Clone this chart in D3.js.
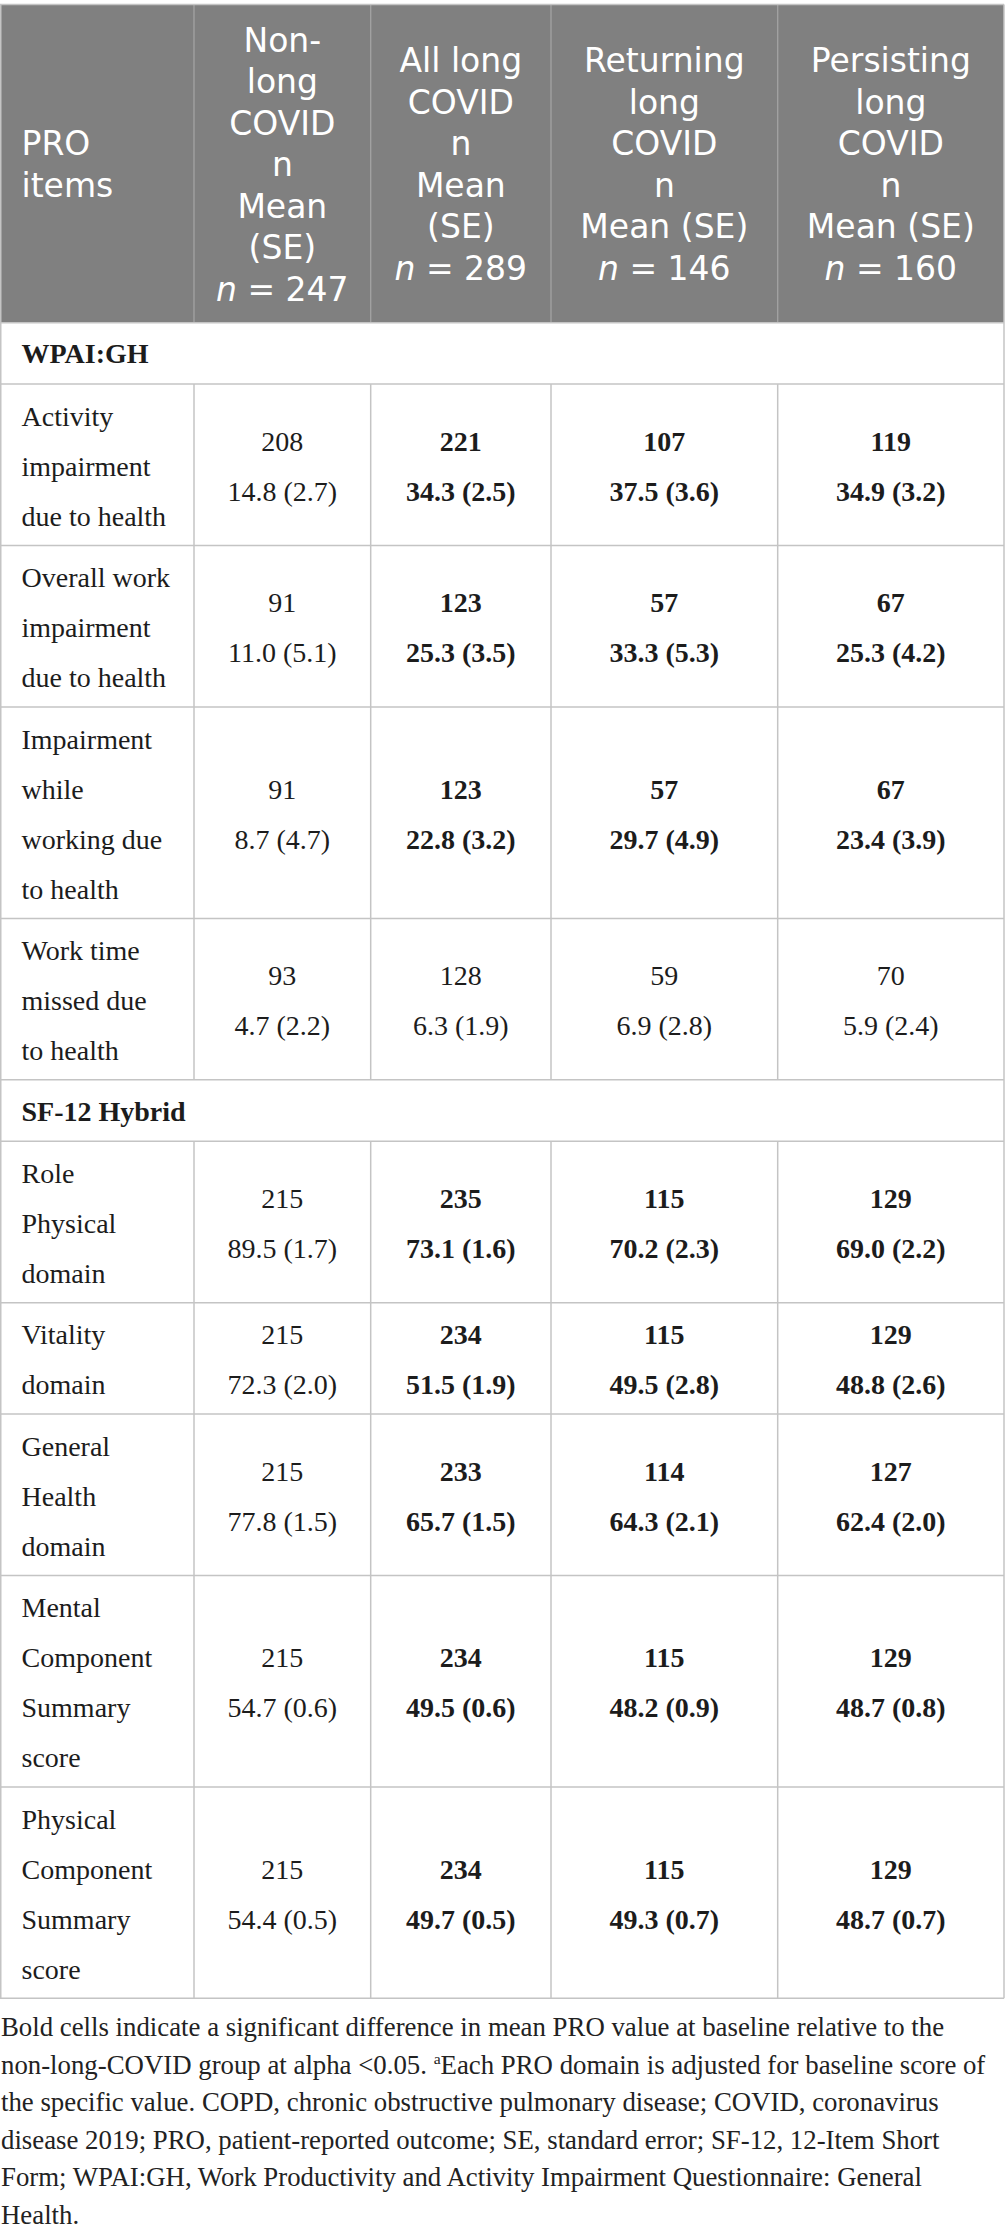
<!DOCTYPE html>
<html>
<head>
<meta charset="utf-8">
<script src="https://cdn.jsdelivr.net/npm/d3@7/dist/d3.min.js"></script>
<style>
  html, body { margin: 0; padding: 0; background: #ffffff; }
  svg { display: block; }
</style>
</head>
<body>
<svg id="chart" width="1005" height="2238"></svg>
<script>
// ---------------- DATA ----------------
const headerLabels = [
  ["PRO", "items"],
  ["Non-", "long", "COVID", "n", "Mean", "(SE)", "*n* = 247"],
  ["All long", "COVID", "n", "Mean", "(SE)", "*n* = 289"],
  ["Returning", "long", "COVID", "n", "Mean (SE)", "*n* = 146"],
  ["Persisting", "long", "COVID", "n", "Mean (SE)", "*n* = 160"]
];
const groups = ["Non-long COVID", "All long COVID", "Returning long COVID", "Persisting long COVID"];

const sections = ["WPAI:GH", "SF-12 Hybrid"];

const itemSection = [0, 0, 0, 0, 1, 1, 1, 1, 1];
const itemLabels = [
  ["Activity", "impairment", "due to health"],
  ["Overall work", "impairment", "due to health"],
  ["Impairment", "while", "working due", "to health"],
  ["Work time", "missed due", "to health"],
  ["Role", "Physical", "domain"],
  ["Vitality", "domain"],
  ["General", "Health", "domain"],
  ["Mental", "Component", "Summary", "score"],
  ["Physical", "Component", "Summary", "score"]
];

// n per group (Non-long, All long, Returning, Persisting)
const nValues = [
  [208, 221, 107, 119],
  [91, 123, 57, 67],
  [91, 123, 57, 67],
  [93, 128, 59, 70],
  [215, 235, 115, 129],
  [215, 234, 115, 129],
  [215, 233, 114, 127],
  [215, 234, 115, 129],
  [215, 234, 115, 129]
];
const meanValues = [
  [14.8, 34.3, 37.5, 34.9],
  [11.0, 25.3, 33.3, 25.3],
  [8.7, 22.8, 29.7, 23.4],
  [4.7, 6.3, 6.9, 5.9],
  [89.5, 73.1, 70.2, 69.0],
  [72.3, 51.5, 49.5, 48.8],
  [77.8, 65.7, 64.3, 62.4],
  [54.7, 49.5, 48.2, 48.7],
  [54.4, 49.7, 49.3, 48.7]
];
const seValues = [
  [2.7, 2.5, 3.6, 3.2],
  [5.1, 3.5, 5.3, 4.2],
  [4.7, 3.2, 4.9, 3.9],
  [2.2, 1.9, 2.8, 2.4],
  [1.7, 1.6, 2.3, 2.2],
  [2.0, 1.9, 2.8, 2.6],
  [1.5, 1.5, 2.1, 2.0],
  [0.6, 0.6, 0.9, 0.8],
  [0.5, 0.5, 0.7, 0.7]
];
// significant (bold) cells
const significant = [
  [false, true, true, true],
  [false, true, true, true],
  [false, true, true, true],
  [false, false, false, false],
  [false, true, true, true],
  [false, true, true, true],
  [false, true, true, true],
  [false, true, true, true],
  [false, true, true, true]
];

const footnoteLines = [
  "Bold cells indicate a significant difference in mean PRO value at baseline relative to the",
  "non-long-COVID group at alpha <0.05. ^a^Each PRO domain is adjusted for baseline score of",
  "the specific value. COPD, chronic obstructive pulmonary disease; COVID, coronavirus",
  "disease 2019; PRO, patient-reported outcome; SE, standard error; SF-12, 12-Item Short",
  "Form; WPAI:GH, Work Productivity and Activity Impairment Questionnaire: General",
  "Health."
];

// ---------------- LAYOUT ----------------
const colEdges = [0, 194, 370.7, 551, 777.7, 1004];
const tableTop = 4.5, headerBottom = 322.7;
const lineH = 50, rowPad = 11.42;
const headLineH = 41.5;
const textLeft = 21.5;

const headFont = "'DejaVu Sans', 'Open Sans', sans-serif";
const bodyFont = "'Liberation Serif', 'Times New Roman', serif";
const headFill = "#808080";
const headLine = "#a3a3a3";
const bodyLine = "#c4c4c4";
const textColor = "#1c1c1c";

const svg = d3.select("#chart");

// column scale: index -> left edge / right edge
const colIdx = d3.range(5);
const xLeft = d3.scaleOrdinal().domain(colIdx).range(colEdges.slice(0, 5));
const xRight = d3.scaleOrdinal().domain(colIdx).range(colEdges.slice(1));
const xCenter = i => (xLeft(i) + xRight(i)) / 2;

// build rows (section rows + item rows)
const rows = [];
sections.forEach((s, si) => {
  rows.push({ type: "section", label: s, lines: 1 });
  itemLabels.forEach((lab, k) => {
    if (itemSection[k] === si) rows.push({ type: "item", k, label: lab, lines: lab.length });
  });
});
let yAcc = headerBottom;
rows.forEach(r => {
  r.y0 = yAcc;
  r.h = rowPad + lineH * r.lines;
  r.y1 = yAcc + r.h;
  r.cy = (r.y0 + r.y1) / 2;
  yAcc = r.y1;
});
const tableBottom = yAcc;

// helper: multi-line text as a single <text> with tspans
function multiText(g, lines, x, yFirst, lh, anchor, attrs) {
  const t = g.append("text").attr("text-anchor", anchor);
  Object.entries(attrs).forEach(([k, v]) => t.attr(k, v));
  lines.forEach((ln, li) => {
    const parts = ln.split("*");
    let first = true;
    parts.forEach((p, pi) => {
      if (p === "") return;
      const ts = t.append("tspan").text(p)
        .attr("font-style", pi % 2 === 1 ? "italic" : "normal");
      if (first) {
        ts.attr("x", x).attr("y", yFirst + li * lh);
        first = false;
      }
    });
  });
  return t;
}

// ---------------- HEADER ----------------
const head = svg.append("g");
head.append("rect")
  .attr("x", 0).attr("y", tableTop)
  .attr("width", colEdges[5]).attr("height", headerBottom - tableTop)
  .attr("fill", headFill);

head.selectAll("line.hv")
  .data(colEdges.slice(1, 5))
  .join("line")
  .attr("x1", d => d).attr("x2", d => d)
  .attr("y1", tableTop).attr("y2", headerBottom)
  .attr("stroke", headLine).attr("stroke-width", 1.3);

const headCy = (tableTop + headerBottom) / 2;
headerLabels.forEach((lines, ci) => {
  const n = lines.length;
  multiText(head, lines,
    ci === 0 ? textLeft : xCenter(ci),
    headCy - (n - 1) / 2 * headLineH + 12.5,
    headLineH,
    ci === 0 ? "start" : "middle",
    { "font-family": headFont, "font-size": 33, "fill": "#ffffff" });
});

// ---------------- BODY ----------------
const body = svg.append("g");

// horizontal lines
const hLines = [headerBottom].concat(rows.map(r => r.y1));
body.selectAll("line.h")
  .data(hLines)
  .join("line")
  .attr("x1", 0).attr("x2", colEdges[5])
  .attr("y1", d => d).attr("y2", d => d)
  .attr("stroke", bodyLine).attr("stroke-width", 1.5);

// outer verticals (full height) and top border
svg.selectAll("line.outer")
  .data([0.75, colEdges[5]])
  .join("line")
  .attr("x1", d => d).attr("x2", d => d)
  .attr("y1", tableTop).attr("y2", tableBottom)
  .attr("stroke", bodyLine).attr("stroke-width", 1.5);
svg.append("line")
  .attr("x1", 0).attr("x2", colEdges[5])
  .attr("y1", tableTop).attr("y2", tableTop)
  .attr("stroke", bodyLine).attr("stroke-width", 1.5);

// inner verticals for item rows
rows.filter(r => r.type === "item").forEach(r => {
  body.selectAll(null)
    .data(colEdges.slice(1, 5))
    .join("line")
    .attr("x1", d => d).attr("x2", d => d)
    .attr("y1", r.y0).attr("y2", r.y1)
    .attr("stroke", bodyLine).attr("stroke-width", 1.5);
});

// text
rows.forEach(r => {
  if (r.type === "section") {
    body.append("text")
      .attr("x", textLeft).attr("y", r.cy + 10)
      .attr("font-family", bodyFont).attr("font-size", 28)
      .attr("font-weight", "bold").attr("fill", textColor)
      .text(r.label);
    return;
  }
  const n = r.lines;
  multiText(body, r.label, textLeft, r.cy - (n - 1) / 2 * lineH + 11, lineH, "start",
    { "font-family": bodyFont, "font-size": 28, "fill": textColor });
  groups.forEach((gname, gi) => {
    const bold = significant[r.k][gi];
    const vals = [String(nValues[r.k][gi]),
      meanValues[r.k][gi].toFixed(1) + " (" + seValues[r.k][gi].toFixed(1) + ")"];
    multiText(body, vals, xCenter(gi + 1), r.cy - 0.5 * lineH + 11, lineH, "middle",
      { "font-family": bodyFont, "font-size": 28, "fill": textColor,
        "font-weight": bold ? "bold" : "normal" });
  });
});

// ---------------- FOOTNOTE ----------------
const foot = svg.append("g");
const footTop = 2036, footLH = 37.5;
const footTargets = [934, 987, 937, 935, 933];
const footTexts = footnoteLines.map((ln, i) => {
  const t = foot.append("text")
    .attr("x", 1).attr("y", footTop + i * footLH)
    .attr("font-family", bodyFont).attr("font-size", 24)
    .attr("fill", "#222222");
  const parts = ln.split("^");
  parts.forEach((p, pi) => {
    if (p === "") return;
    if (pi % 2 === 1) {
      t.append("tspan").text(p).attr("class", "sup").attr("font-size", 14).attr("dy", -10);
    } else {
      t.append("tspan").text(p).attr("dy", pi > 0 ? 10 : 0);
    }
  });
  return t;
});
// fit font size to reference line widths
const ratios = footTargets.map((w, i) => w / footTexts[i].node().getComputedTextLength());
const kf = d3.mean(ratios);
footTexts.forEach(t => {
  t.attr("font-size", 24 * kf);
  t.selectAll("tspan.sup").attr("font-size", 14 * kf);
});
</script>
</body>
</html>
